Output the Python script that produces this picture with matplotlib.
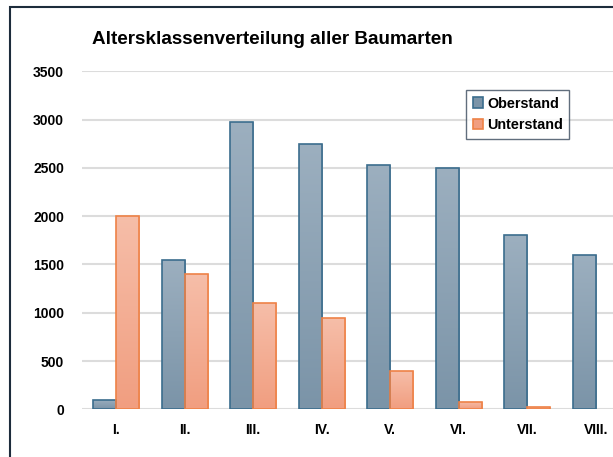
import numpy as np
import matplotlib
matplotlib.use("Agg")
import matplotlib.pyplot as plt
from matplotlib.colors import LinearSegmentedColormap
from matplotlib.patches import Rectangle

# data
klassen = ["I.", "II.", "III.", "IV.", "V.", "VI.", "VII.", "VIII."]
oberstand = [100, 1550, 2980, 2750, 2525, 2500, 1800, 1600]
unterstand = [2000, 1400, 1100, 950, 400, 80, 20, 0]
serien = ["Oberstand", "Unterstand"]
titel = "Altersklassenverteilung aller Baumarten"

plt.rcParams["font.family"] = ["Liberation Sans", "DejaVu Sans"]
plt.rcParams["font.weight"] = "bold"

fig = plt.figure(figsize=(6.13, 4.57), dpi=100)
ax = fig.add_axes([82 / 613, 47.7 / 457, 548 / 613, 338 / 457])

x = np.arange(len(klassen))
w = 0.336
ober_col = ("#9cafbf", "#7b94a8", "#3b6d8d")
unter_col = ("#f6bea9", "#f19e80", "#ee8247")

b1 = ax.bar(x - w / 2, oberstand, w, color=ober_col[1], edgecolor=ober_col[2],
            linewidth=1.2, label=serien[0], zorder=3)
b2 = ax.bar(x + w / 2, unterstand, w, color=unter_col[1], edgecolor=unter_col[2],
            linewidth=1.2, label=serien[1], zorder=3)

# gradient fill inside each bar
grad = np.linspace(0, 1, 100).reshape(-1, 1)
for bars, cols in [(b1, ober_col), (b2, unter_col)]:
    cmap = LinearSegmentedColormap.from_list("g", [cols[1], cols[0]])
    for p in bars:
        h = p.get_height()
        if h <= 0:
            p.set_visible(False)
            continue
        x0 = p.get_x()
        im = ax.imshow(grad, cmap=cmap, aspect="auto", origin="lower",
                       extent=(x0, x0 + p.get_width(), 0, h), zorder=3.5)
        im.set_clip_path(p)
        p.set_facecolor("none")
        p.set_zorder(4)

ax.set_xlim(-0.5, len(klassen) - 0.5)
ax.set_ylim(0, 3500)
ax.set_yticks(np.arange(0, 3501, 500))
ax.set_xticks(x)
ax.set_xticklabels(klassen)
ax.tick_params(axis="both", length=0, labelsize=10)
ax.tick_params(axis="y", pad=13)
ax.tick_params(axis="x", pad=10)
ax.grid(axis="y", color="#dcdcdc", linewidth=1.5, zorder=0)
ax.set_axisbelow(True)
for s in ax.spines.values():
    s.set_visible(False)

fig.text(272 / 613, 1 - 40 / 457, titel, ha="center", va="center",
         fontsize=13.6, fontweight="bold")

leg = ax.legend(loc="upper left", bbox_to_anchor=(466 / 613, 1 - 90 / 457),
                bbox_transform=fig.transFigure, fontsize=10.4, frameon=True,
                fancybox=False, handlelength=0.7, handleheight=0.7,
                handletextpad=0.3, labelspacing=0.55, borderpad=0.45,
                borderaxespad=0)
leg.get_frame().set_edgecolor("#3a4a5c")
leg.get_frame().set_linewidth(1.0)
for h, cols in zip(leg.legend_handles, [ober_col, unter_col]):
    h.set_facecolor(cols[1])
    h.set_edgecolor(cols[2])
    h.set_visible(True)

# outer chart border
fig.patches.append(Rectangle((10 / 613, -0.1), 1.2, 0.1 + 1 - 7 / 457,
                             transform=fig.transFigure, fill=False,
                             edgecolor="#1d2c3c", linewidth=1.5))

fig.savefig("out.png", dpi=100)
